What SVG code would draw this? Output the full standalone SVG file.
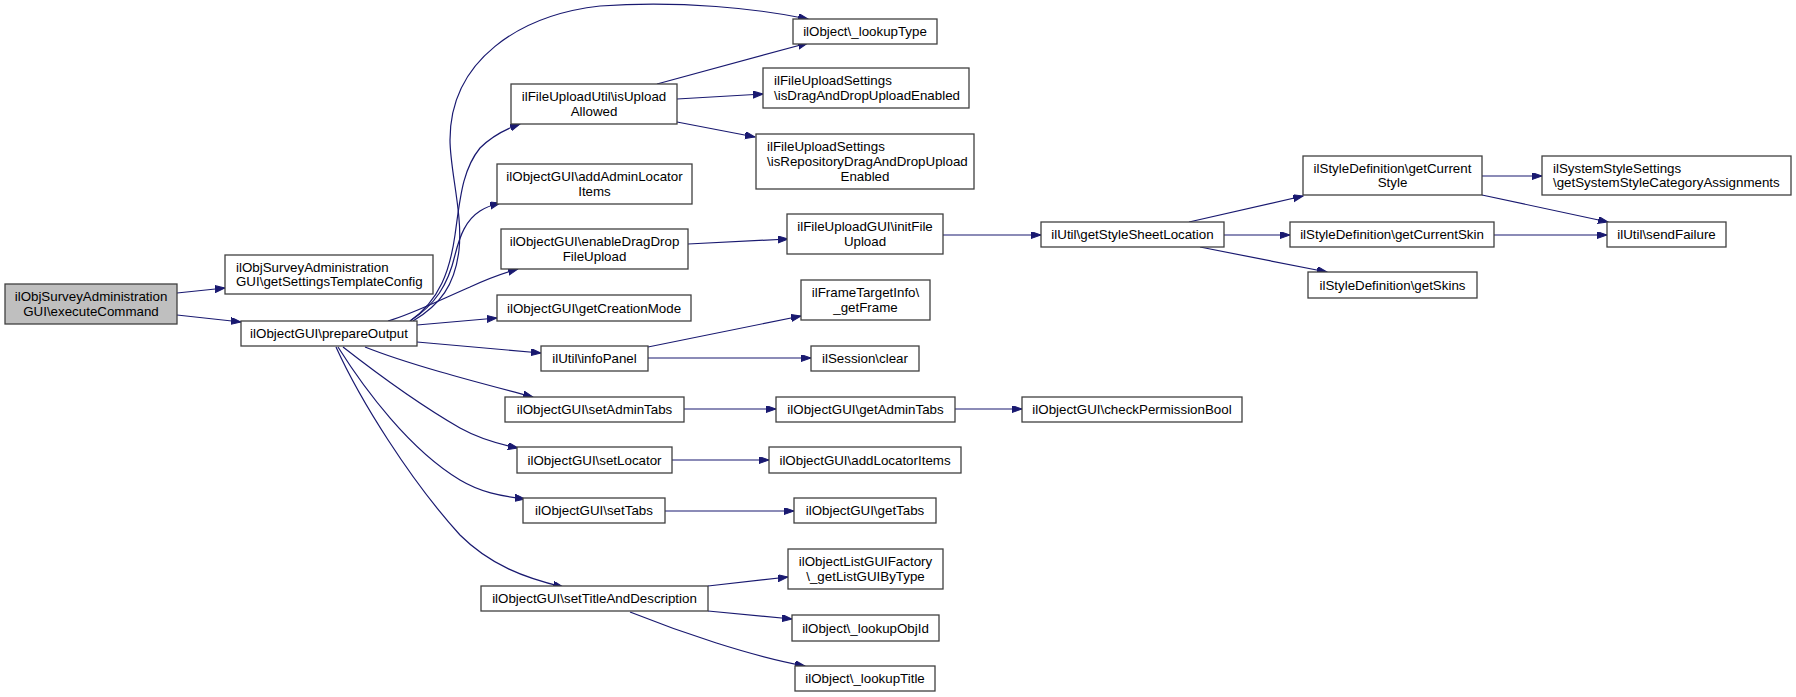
<svg xmlns="http://www.w3.org/2000/svg" width="1796" height="697" viewBox="0 0 1796 697">
<style>
.n rect{fill:#ffffff;stroke:#404040;stroke-width:1.3}
.n.root rect{fill:#bfbfbf}
text{font-family:"Liberation Sans",Arial,Helvetica,sans-serif;font-size:13.33px;fill:#000000}
.c{text-anchor:middle}
.e path{fill:none;stroke:#191970;stroke-width:1.2;marker-end:url(#a)}
</style>
<defs>
<marker id="a" markerWidth="11" markerHeight="8" refX="10" refY="3.5" orient="auto" markerUnits="userSpaceOnUse">
<path d="M0,0 L10,3.5 L0,7 z" fill="#191970" stroke="#191970" stroke-width="1"/>
</marker>
</defs>
<rect width="1796" height="697" fill="#ffffff"/>
<g id="edges" class="e">
<path d="M177,293 L225,288"/>
<path d="M177,315 L241,322"/>
<path d="M413,321 C440,305 455,285 459,250 C463,215 450,170 450,140 C450,60 520,15 600,6 C680,0 760,9 808,19"/>
<path d="M410,321 C440,300 450,270 455,235 C460,200 462,170 480,148 C490,138 503,130 520,124"/>
<path d="M410,321 C435,305 448,285 455,255 C460,235 466,220 480,211 C486,207 492,205 500,203"/>
<path d="M388,321 C410,315 440,300 470,287 C485,280 500,274 518,269"/>
<path d="M417,325 L497,318"/>
<path d="M417,342 L541,353"/>
<path d="M365,347 C410,365 480,383 533,397"/>
<path d="M343,347 C375,372 420,405 460,428 C478,438 498,444 518,448"/>
<path d="M338,347 C365,390 410,450 460,480 C480,492 500,496 525,499"/>
<path d="M336,347 C360,400 410,480 460,535 C490,565 525,578 563,587"/>
<path d="M657,84 L808,43"/>
<path d="M677,99 L763,94"/>
<path d="M677,122 L755,137"/>
<path d="M688,244 L788,239"/>
<path d="M943,235 L1041,235"/>
<path d="M1189,222 L1303,196"/>
<path d="M1224,235 L1290,235"/>
<path d="M1200,247 L1327,272"/>
<path d="M1482,176 L1542,176"/>
<path d="M1482,195 L1608,222"/>
<path d="M1494,235 L1607,235"/>
<path d="M648,347 L801,316"/>
<path d="M648,358 L811,358"/>
<path d="M684,409 L776,409"/>
<path d="M955,409 L1022,409"/>
<path d="M672,460 L769,460"/>
<path d="M665,511 L794,511"/>
<path d="M708,586 L788,577"/>
<path d="M708,611 L792,619"/>
<path d="M630,612 C680,632 750,656 805,666"/>
</g>
<g id="n_exec" class="n root"><rect x="5" y="284" width="172" height="40"/><text class="c" x="91" y="301.2">ilObjSurveyAdministration</text><text class="c" x="91" y="316">GUI\executeCommand</text></g>
<g id="n_settings" class="n"><rect x="225" y="255" width="208" height="39"/><text x="236" y="271.7">ilObjSurveyAdministration</text><text x="236" y="286.3">GUI\getSettingsTemplateConfig</text></g>
<g id="n_prep" class="n"><rect x="241" y="321" width="176" height="25"/><text class="c" x="329" y="338">ilObjectGUI\prepareOutput</text></g>
<g id="n_lookupType" class="n"><rect x="793" y="19" width="144" height="25"/><text class="c" x="865" y="36">ilObject\_lookupType</text></g>
<g id="n_isUpload" class="n"><rect x="511" y="84" width="166" height="40"/><text class="c" x="594" y="101.2">ilFileUploadUtil\isUpload</text><text class="c" x="594" y="116">Allowed</text></g>
<g id="n_dnd" class="n"><rect x="763" y="68" width="206" height="40"/><text x="774" y="85.2">ilFileUploadSettings</text><text x="774" y="100">\isDragAndDropUploadEnabled</text></g>
<g id="n_repo" class="n"><rect x="756" y="134" width="218" height="55"/><text x="767" y="151.3">ilFileUploadSettings</text><text x="767" y="166">\isRepositoryDragAndDropUpload</text><text class="c" x="865" y="180.7">Enabled</text></g>
<g id="n_addAdmin" class="n"><rect x="497" y="164" width="195" height="40"/><text class="c" x="594.5" y="181.2">ilObjectGUI\addAdminLocator</text><text class="c" x="594.5" y="196">Items</text></g>
<g id="n_enable" class="n"><rect x="501" y="229" width="187" height="40"/><text class="c" x="594.5" y="246.2">ilObjectGUI\enableDragDrop</text><text class="c" x="594.5" y="261">FileUpload</text></g>
<g id="n_creation" class="n"><rect x="497" y="295" width="194" height="26"/><text class="c" x="594" y="312.5">ilObjectGUI\getCreationMode</text></g>
<g id="n_infoPanel" class="n"><rect x="541" y="346" width="107" height="25"/><text class="c" x="594.5" y="363">ilUtil\infoPanel</text></g>
<g id="n_setAdmin" class="n"><rect x="505" y="397" width="179" height="25"/><text class="c" x="594.5" y="414">ilObjectGUI\setAdminTabs</text></g>
<g id="n_setLocator" class="n"><rect x="517" y="447" width="155" height="26"/><text class="c" x="594.5" y="464.5">ilObjectGUI\setLocator</text></g>
<g id="n_setTabs" class="n"><rect x="523" y="498" width="142" height="25"/><text class="c" x="594" y="515">ilObjectGUI\setTabs</text></g>
<g id="n_setTitle" class="n"><rect x="481" y="586" width="227" height="25"/><text class="c" x="594.5" y="603">ilObjectGUI\setTitleAndDescription</text></g>
<g id="n_initFile" class="n"><rect x="787" y="214" width="156" height="40"/><text class="c" x="865" y="231.2">ilFileUploadGUI\initFile</text><text class="c" x="865" y="246">Upload</text></g>
<g id="n_frame" class="n"><rect x="801" y="280" width="129" height="40"/><text class="c" x="865.5" y="297.2">ilFrameTargetInfo\</text><text class="c" x="865.5" y="312">_getFrame</text></g>
<g id="n_session" class="n"><rect x="811" y="346" width="108" height="25"/><text class="c" x="865" y="363">ilSession\clear</text></g>
<g id="n_getAdmin" class="n"><rect x="776" y="397" width="179" height="25"/><text class="c" x="865.5" y="414">ilObjectGUI\getAdminTabs</text></g>
<g id="n_addLoc" class="n"><rect x="769" y="447" width="192" height="26"/><text class="c" x="865" y="464.5">ilObjectGUI\addLocatorItems</text></g>
<g id="n_getTabs" class="n"><rect x="794" y="498" width="142" height="25"/><text class="c" x="865" y="515">ilObjectGUI\getTabs</text></g>
<g id="n_listFactory" class="n"><rect x="788" y="549" width="155" height="40"/><text class="c" x="865.5" y="566.2">ilObjectListGUIFactory</text><text class="c" x="865.5" y="581">\_getListGUIByType</text></g>
<g id="n_lookupObjId" class="n"><rect x="792" y="615" width="147" height="26"/><text class="c" x="865.5" y="632.5">ilObject\_lookupObjId</text></g>
<g id="n_lookupTitle" class="n"><rect x="795" y="666" width="140" height="25"/><text class="c" x="865" y="683">ilObject\_lookupTitle</text></g>
<g id="n_styleSheet" class="n"><rect x="1041" y="222" width="183" height="25"/><text class="c" x="1132.5" y="239">ilUtil\getStyleSheetLocation</text></g>
<g id="n_checkPerm" class="n"><rect x="1022" y="397" width="220" height="25"/><text class="c" x="1132" y="414">ilObjectGUI\checkPermissionBool</text></g>
<g id="n_curStyle" class="n"><rect x="1303" y="156" width="179" height="39"/><text class="c" x="1392.5" y="172.7">ilStyleDefinition\getCurrent</text><text class="c" x="1392.5" y="187.3">Style</text></g>
<g id="n_curSkin" class="n"><rect x="1290" y="222" width="204" height="25"/><text class="c" x="1392" y="239">ilStyleDefinition\getCurrentSkin</text></g>
<g id="n_skins" class="n"><rect x="1308" y="272" width="169" height="26"/><text class="c" x="1392.5" y="289.5">ilStyleDefinition\getSkins</text></g>
<g id="n_sysStyle" class="n"><rect x="1542" y="156" width="249" height="39"/><text x="1553" y="172.7">ilSystemStyleSettings</text><text x="1553" y="187.3">\getSystemStyleCategoryAssignments</text></g>
<g id="n_sendFailure" class="n"><rect x="1607" y="222" width="119" height="25"/><text class="c" x="1666.5" y="239">ilUtil\sendFailure</text></g>
</svg>
